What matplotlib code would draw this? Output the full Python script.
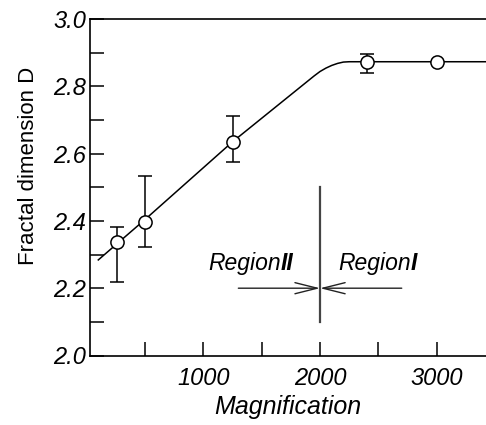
import matplotlib
matplotlib.use("Agg")
import matplotlib.pyplot as plt
from matplotlib import font_manager

# ---- data ----
mag = [258, 500, 1252, 2400, 3000]
dim = [2.338, 2.398, 2.635, 2.871, 2.872]
err_low = [0.119, 0.075, 0.059, 0.032, 0.0]
err_high = [0.045, 0.135, 0.077, 0.025, 0.0]

curve_x = [100, 500, 1250, 1700, 1950, 2000, 2050, 2100, 2150, 2200, 2250, 2400, 3422]
curve_y = [2.284, 2.404, 2.635, 2.761, 2.831, 2.844, 2.854, 2.862, 2.868, 2.872, 2.873, 2.873, 2.873]

x_major = [1000, 2000, 3000]
x_minor = [500, 1500, 2500]
y_major = [2.0, 2.2, 2.4, 2.6, 2.8, 3.0]
y_minor = [2.1, 2.3, 2.5, 2.7, 2.9]

boundary = 2000
region_span = [1300, 2700]
region_y = 2.20
vline_span = [2.10, 2.50]

names = {f.name for f in font_manager.fontManager.ttflist}
FONT = ['Liberation Sans Narrow', 'Liberation Sans', 'DejaVu Sans']
FONT = [f for f in FONT if f in names] or ['DejaVu Sans']
plt.rcParams['font.family'] = FONT

fig = plt.figure(figsize=(4.86, 4.25), dpi=100)
ax = fig.add_axes([90/486, 1 - 355.5/425, 1 - 90/486, (355.5 - 19)/425])

ax.plot(curve_x, curve_y, color='black', lw=1.1, zorder=2)
ax.errorbar(mag, dim, yerr=[err_low, err_high], fmt='o', ms=9.5,
            mfc='white', mec='black', mew=1.1, ecolor='black',
            elinewidth=1.1, capsize=5, capthick=1.1, zorder=3)

# region divider
ax.plot([boundary, boundary], vline_span, color='#444444', lw=1.6, zorder=1)
for xs in region_span:
    ax.annotate('', xy=(boundary, region_y), xytext=(xs, region_y),
                arrowprops=dict(arrowstyle='->,head_length=1.6,head_width=0.4',
                                color='#222222', lw=1.0, shrinkA=0, shrinkB=0))

tfs = 16.5
t1 = ax.text(1040, 2.254, 'Region', fontsize=tfs, style='italic', va='baseline', ha='left')
ax.annotate('II', xy=(1, 0), xycoords=t1, xytext=(0, 0), textcoords='offset points',
            fontsize=tfs, style='italic', weight='bold', va='bottom', ha='left')
t3 = ax.text(2155, 2.254, 'Region', fontsize=tfs, style='italic', va='baseline', ha='left')
ax.annotate('I', xy=(1, 0), xycoords=t3, xytext=(0, 0), textcoords='offset points',
            fontsize=tfs, style='italic', weight='bold', va='bottom', ha='left')

ax.set_xlim(29, 3422)
ax.set_ylim(2.0, 3.0)
ax.set_xticks(x_major)
ax.set_xticks(x_minor, minor=True)
ax.set_yticks(y_major)
ax.set_yticks(y_minor, minor=True)
ax.set_xticklabels([str(v) for v in x_major], fontsize=17, style='italic')
ax.set_yticklabels([f'{v:.1f}' for v in y_major], fontsize=17, style='italic')
ax.tick_params(which='both', direction='in', length=10, width=1.1, pad=3)
ax.tick_params(axis='x', pad=8)

ax.spines['right'].set_visible(False)
for s in ['left', 'bottom', 'top']:
    ax.spines[s].set_linewidth(1.2)

ax.set_xlabel('Magnification', fontsize=18, style='italic', labelpad=4)
ax.set_ylabel('Fractal dimension D', fontsize=16)
ax.yaxis.set_label_coords(-0.13, 0.565)

fig.savefig('out.png', dpi=100)
